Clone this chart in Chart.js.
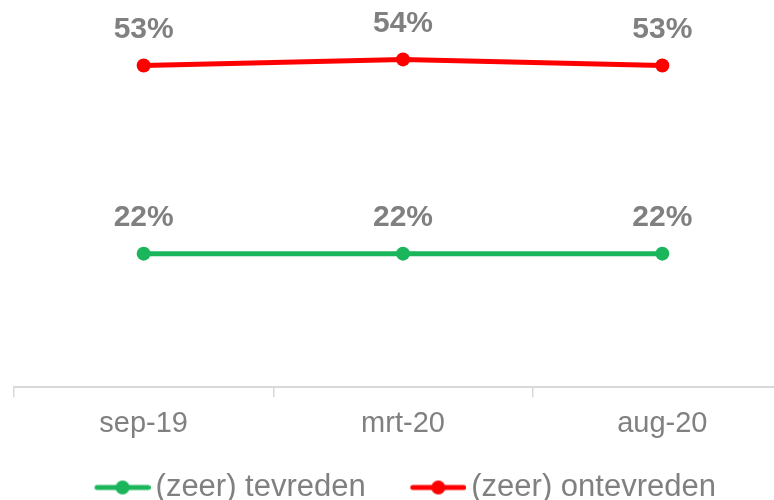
<!DOCTYPE html>
<html><head><meta charset="utf-8">
<script src="https://cdn.jsdelivr.net/npm/chart.js@4"></script>
<style>
html,body{margin:0;padding:0;background:#fff;overflow:hidden}
#view{width:774px;height:500px;overflow:hidden;position:relative}
#wrap{width:810px;height:513px;position:absolute;left:-11px;top:0}
</style>
</head><body><div id="view"><div id="wrap"><canvas id="c"></canvas></div></div>
<script>
const categories = ['sep-19', 'mrt-20', 'aug-20'];
const tevreden = [0.22, 0.22, 0.22];
const ontevreden = [0.53, 0.54, 0.53];
const seriesNames = ['(zeer) tevreden', '(zeer) ontevreden'];
const yMin = 0, yMax = 0.6;

const GREEN = '#1BB55C';
const RED = '#FF0000';
const GRAY = '#808080';
const FAMILY = '"Liberation Sans", Arial, Helvetica, sans-serif';

function legendImg(color) {
  const c = document.createElement('canvas');
  c.width = 89; c.height = 16;
  const x = c.getContext('2d');
  x.strokeStyle = color; x.lineWidth = 5; x.lineCap = 'round';
  x.beginPath(); x.moveTo(35.5, 8); x.lineTo(86.5, 8); x.stroke();
  x.fillStyle = color;
  x.beginPath(); x.arc(61, 8, 7, 0, Math.PI * 2); x.fill();
  return c;
}
const legendImgs = [legendImg(GREEN), legendImg(RED)];

const valueLabels = {
  id: 'valueLabels',
  afterDatasetsDraw(chart) {
    const ctx = chart.ctx;
    ctx.save();
    ctx.font = 'bold 30px ' + FAMILY;
    ctx.fillStyle = GRAY;
    ctx.textAlign = 'center';
    ctx.textBaseline = 'middle';
    chart.data.datasets.forEach((ds, i) => {
      const meta = chart.getDatasetMeta(i);
      meta.data.forEach((pt, j) => {
        ctx.fillText(Math.round(ds.data[j] * 100) + '%', pt.x, pt.y - 36);
      });
    });
    ctx.restore();
  }
};

new Chart(document.getElementById('c'), {
  type: 'line',
  data: {
    labels: categories,
    datasets: [
      { label: seriesNames[0], data: tevreden, borderColor: GREEN, backgroundColor: GREEN,
        borderWidth: 5, pointRadius: 7, pointBorderWidth: 0, pointBackgroundColor: GREEN, tension: 0 },
      { label: seriesNames[1], data: ontevreden, borderColor: RED, backgroundColor: RED,
        borderWidth: 5, pointRadius: 7, pointBorderWidth: 0, pointBackgroundColor: RED, tension: 0 }
    ]
  },
  options: {
    responsive: true,
    maintainAspectRatio: false,
    animation: false,
    devicePixelRatio: 1,
    layout: { padding: { left: 0, right: 0, top: 23, bottom: 0 } },
    scales: {
      x: {
        offset: true,
        grid: { offset: true, display: true, drawOnChartArea: false, drawTicks: true, tickLength: 10, color: '#D9D9D9', lineWidth: 1.5 },
        border: { display: true, color: '#D9D9D9', width: 2 },
        ticks: { color: GRAY, font: { family: FAMILY, size: 29 }, padding: 9, maxRotation: 0 }
      },
      y: {
        display: true, min: yMin, max: yMax,
        ticks: { display: false },
        grid: { display: false },
        border: { display: false },
        afterFit: (s) => { s.width = 25; }
      }
    },
    plugins: {
      tooltip: { enabled: false },
      legend: {
        position: 'bottom',
        labels: {
          usePointStyle: true,
          pointStyleWidth: 68,
          padding: 22,
          color: GRAY,
          font: { family: FAMILY, size: 31 },
          generateLabels: (chart) => chart.data.datasets.map((ds, i) => ({
            text: ds.label, pointStyle: legendImgs[i], fillStyle: ds.borderColor,
            strokeStyle: 'rgba(0,0,0,0)', lineWidth: 0, hidden: false, datasetIndex: i, fontColor: GRAY
          }))
        }
      }
    }
  },
  plugins: [valueLabels]
});
</script></body></html>
